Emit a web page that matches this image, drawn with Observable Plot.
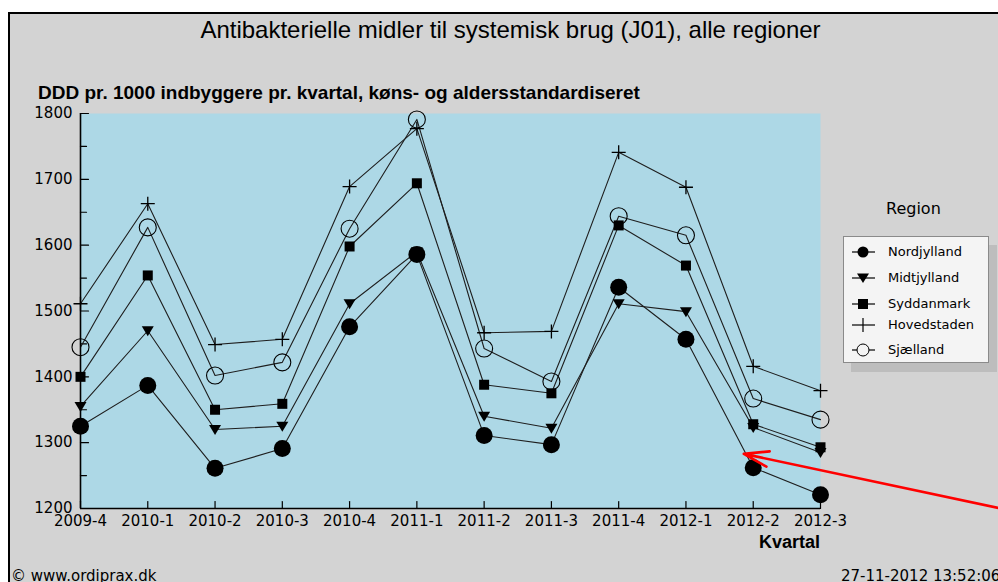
<!DOCTYPE html>
<html><head><meta charset="utf-8">
<script src="https://cdn.jsdelivr.net/npm/d3@7"></script>
<script src="https://cdn.jsdelivr.net/npm/@observablehq/plot@0.6"></script>
<style>
html,body{margin:0;padding:0;background:#fff;}
#wrap{position:relative;width:998px;height:582px;overflow:hidden;background:#fff;}
#panel{position:absolute;left:8px;top:12px;width:1000px;height:600px;background:#d3d3d3;border-left:2px solid #000;border-top:2px solid #000;}
#chart{position:absolute;left:0;top:0;}
.t{position:absolute;white-space:nowrap;color:#000;}
#title{left:0;width:1021px;text-align:center;top:16px;font:24px "Liberation Sans",Arial,sans-serif;line-height:28px;}
#subtitle{left:38px;top:82px;font:bold 19px "Liberation Sans",Arial,sans-serif;line-height:22px;}
#xlabel{left:700px;width:120px;text-align:right;top:531px;font:bold 18px "Liberation Sans",Arial,sans-serif;line-height:22px;}
#copy{left:11px;top:567px;font:15px "DejaVu Sans",sans-serif;line-height:18px;}
#date{left:841px;top:567px;font:15px "DejaVu Sans",sans-serif;line-height:18px;}
#legtitle{left:886px;top:200px;font:16px "DejaVu Sans",sans-serif;line-height:18px;}
#legend{position:absolute;left:843px;top:236px;width:144px;height:125px;background:#f4f4f4;border:1px solid #8a8a8a;box-shadow:8px 9px 0 #bdbdbd;}
.row{position:absolute;left:7px;height:20px;font:13px "DejaVu Sans",sans-serif;line-height:20px;}
.row svg{position:absolute;left:0;top:0;}
.row span{position:absolute;left:37px;top:0;white-space:nowrap;}
</style></head>
<body>
<div id="wrap">
  <div id="panel"></div>
  <div id="chart"></div>
  <div class="t" id="title">Antibakterielle midler til systemisk brug (J01), alle regioner</div>
  <div class="t" id="subtitle">DDD pr. 1000 indbyggere pr. kvartal, køns- og aldersstandardiseret</div>
  <div class="t" id="xlabel">Kvartal</div>
  <div class="t" id="copy">© www.ordiprax.dk</div>
  <div class="t" id="date">27-11-2012 13:52:06</div>
  <div class="t" id="legtitle">Region</div>
  <div id="legend"></div>
</div>
<script>
// ---- data ----
const quarters = ["2009-4","2010-1","2010-2","2010-3","2010-4","2011-1","2011-2","2011-3","2011-4","2012-1","2012-2","2012-3"];
const regions = ["Nordjylland","Midtjylland","Syddanmark","Hovedstaden","Sjælland"];
const nordjylland = [1325,1387,1261,1291,1476,1586,1311,1297,1536,1457,1262,1221];
const midtjylland = [1355,1470,1320,1325,1511,1590,1340,1322,1511,1499,1323,1285];
const syddanmark  = [1400,1554,1350,1359,1598,1694,1388,1375,1630,1569,1328,1293];
const hovedstaden = [1511,1663,1449,1457,1689,1777,1467,1469,1741,1688,1416,1379];
const sjaelland   = [1445,1627,1402,1422,1625,1791,1443,1393,1644,1615,1367,1335];
const yTicks = [1200,1300,1400,1500,1600,1700,1800];
const yMinorTicks = [1250,1350,1450,1550,1650,1750];
// annotation arrow (tail at right edge, tip at the Nordjylland line)
const arrowNote = [{x1: 13.66, y1: 1200.5, x2: 9.86, y2: 1283}];

// ---- build table ----
const seriesValues = [nordjylland, midtjylland, syddanmark, hovedstaden, sjaelland];
const rows = [];
regions.forEach((r, k) => seriesValues[k].forEach((v, i) => rows.push({region: r, i, value: v})));
const of = r => rows.filter(d => d.region === r);

// ---- symbols ----
const triDown = {draw(c){ c.moveTo(-6,-4.5); c.lineTo(6,-4.5); c.lineTo(0,5.5); c.closePath(); }};
const square = {draw(c){ c.rect(-5,-5,10,10); }};
const plus = {draw(c){ c.moveTo(-7,0); c.lineTo(7,0); c.moveTo(0,-7); c.lineTo(0,7); }};
const tickShape = {draw(c, l){ c.moveTo(0,0); c.lineTo(0,-l); }};

const idx = quarters.map((_, i) => i);

const chart = Plot.plot({
  width: 998, height: 582,
  marginLeft: 80, marginRight: 178, marginTop: 113, marginBottom: 74,
  style: {background: "transparent", fontFamily: "DejaVu Sans, sans-serif", fontSize: "15px", color: "#000", overflow: "visible"},
  x: {domain: [0, 11], axis: null},
  y: {domain: [1200, 1800], axis: null},
  marks: [
    Plot.frame({fill: "#add8e6", stroke: "none"}),
    Plot.axisY({ticks: yTicks, tickSize: 0, tickPadding: 8, label: null, fontSize: 15, tickFormat: d => String(d)}),
    Plot.axisX({ticks: idx, tickSize: 0, tickPadding: 7, label: null, tickFormat: i => quarters[i], fontSize: 15}),
    Plot.vector(yTicks, {y: d => d, frameAnchor: "left", rotate: 90, length: 8, anchor: "start", shape: tickShape, stroke: "#000", strokeWidth: 1.2}),
    Plot.vector(yMinorTicks, {y: d => d, frameAnchor: "left", rotate: 90, length: 6, anchor: "start", shape: tickShape, stroke: "#000", strokeWidth: 1.2}),
    Plot.vector(idx, {x: d => d, frameAnchor: "bottom", length: 7, anchor: "start", shape: tickShape, stroke: "#000", strokeWidth: 1.2}),
    Plot.line(rows, {x: "i", y: "value", z: "region", stroke: "#1e1e1e", strokeWidth: 1.1}),
    Plot.dot(of("Nordjylland"), {x: "i", y: "value", r: 8.5, fill: "#000", stroke: "none"}),
    Plot.dot(of("Midtjylland"), {x: "i", y: "value", symbol: triDown, fill: "#000", stroke: "none"}),
    Plot.dot(of("Syddanmark"), {x: "i", y: "value", symbol: square, fill: "#000", stroke: "none"}),
    Plot.dot(of("Hovedstaden"), {x: "i", y: "value", symbol: plus, fill: "none", stroke: "#000", strokeWidth: 1.3}),
    Plot.dot(of("Sjælland"), {x: "i", y: "value", r: 8.5, fill: "none", stroke: "#000", strokeWidth: 1.1}),
    Plot.ruleX([0], {stroke: "#000", strokeWidth: 1.6}),
    Plot.ruleY([1200], {stroke: "#000", strokeWidth: 1.6}),
    Plot.arrow(arrowNote, {x1: "x1", y1: "y1", x2: "x2", y2: "y2", stroke: "#ff0000", strokeWidth: 2.6, headLength: 15, headAngle: 35})
  ]
});
document.getElementById("chart").appendChild(chart);

// ---- legend ----
const legendGlyphs = {
  "Nordjylland": '<circle cx="12" cy="10" r="5.5" fill="#000"/>',
  "Midtjylland": '<path d="M6,5.5L18,5.5L12,15Z" fill="#000"/>',
  "Syddanmark": '<rect x="7" y="5" width="10" height="10" fill="#000"/>',
  "Hovedstaden": '<path d="M12,3V17" stroke="#000" stroke-width="1.2"/>',
  "Sjælland": '<circle cx="12" cy="10" r="6" fill="#f4f4f4" stroke="#000" stroke-width="1"/>'
};
const legendTops = [5, 31, 57, 78, 103];
const leg = document.getElementById("legend");
regions.forEach((r, k) => {
  const d = document.createElement("div");
  d.className = "row";
  d.style.top = legendTops[k] + "px";
  d.innerHTML = `<svg width="26" height="20"><path d="M1,10H24" stroke="#000" stroke-width="1.2"/>${legendGlyphs[r]}</svg><span>${r}</span>`;
  leg.appendChild(d);
});
</script>
</body></html>
